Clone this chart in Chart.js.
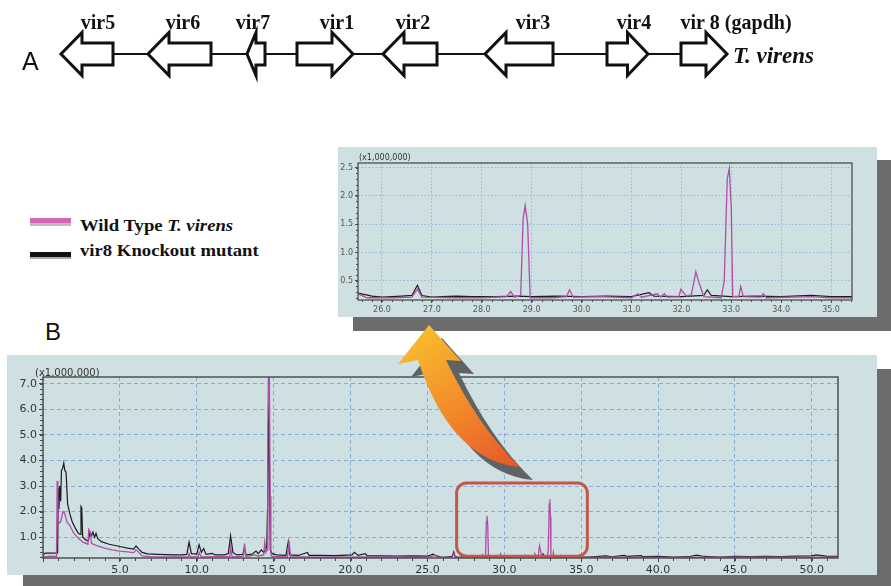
<!DOCTYPE html>
<html><head><meta charset="utf-8">
<script src="https://cdn.jsdelivr.net/npm/chart.js@4.4.1/dist/chart.umd.min.js"></script>
<style>
html,body{margin:0;padding:0;background:#fff;}
#wrap{position:relative;width:891px;height:586px;overflow:hidden;background:#fff;}
.abs{position:absolute;}
canvas{display:block;}
.lg{position:absolute;left:80px;font-family:"Liberation Serif","DejaVu Serif",serif;font-weight:bold;font-size:17px;line-height:17px;color:#111;white-space:nowrap;transform-origin:0 0;transform:scaleX(1.1);}
.sw{position:absolute;left:30px;width:41px;}
</style></head><body>
<div id="wrap">
  <canvas id="genes" class="abs" style="left:0;top:0" width="891" height="108"></canvas>

  <div class="sw" style="top:218px;height:5px;background:#d566b4"></div>
  <div class="sw" style="top:223px;height:3px;background:#bdbdbd"></div>
  <div class="lg" style="top:217px">Wild Type <i>T. virens</i></div>
  <div class="sw" style="top:252px;height:5px;background:#111"></div>
  <div class="sw" style="top:257px;height:2px;background:#aaa"></div>
  <div class="lg" style="top:242px">vir8 Knockout mutant</div>

  <div class="abs" style="left:45px;top:320px;font-family:'Liberation Sans',Arial,sans-serif;font-size:24px;line-height:24px;color:#111">B</div>

  <canvas id="inset" class="abs" style="left:338px;top:147px" width="553" height="184"></canvas>
  <canvas id="main" class="abs" style="left:0;top:355px" width="891" height="231"></canvas>
  <canvas id="overlay" class="abs" style="left:0;top:0;pointer-events:none" width="891" height="586"></canvas>
</div>
<script>
// ---------- Gene map data (kb, arbitrary origin) ----------
const geneNames  = ['vir5','vir6','vir7','vir1','vir2','vir3','vir4','vir 8 (gapdh)'];
const geneStart  = [6.1, 14.8, 24.7, 29.7, 38.3, 48.5, 60.7, 68.1];
const geneEnd    = [11.3, 21.1, 26.5, 35.3, 43.7, 55.3, 64.8, 72.7];
const geneStrand = [-1, -1, -1, 1, -1, -1, 1, 1];
const geneLabelAt= [9.8, 18.3, 25.3, 33.7, 41.3, 53.3, 63.4, 73.6];

// ---------- Chromatogram data (retention time, min ; intensity x1,000,000) ----------
const wtTime = [0,0.5,0.88,0.92,0.97,1.05,1.15,1.3,1.4,1.55,1.75,2.0,2.3,2.6,2.92,2.98,3.08,3.15,3.5,4.0,4.5,5.0,5.5,5.9,6.05,6.2,6.45,7.0,8.0,9.0,9.45,9.5,9.6,10.1,10.15,10.3,11.0,12.15,12.2,12.3,13.0,13.05,13.1,13.2,13.8,14.0,14.35,14.42,14.5,14.58,14.62,14.66,14.72,14.77,14.82,14.9,15.9,16.0,16.1,17.0,18.0,19.0,20.0,21.0,22.0,23.0,24.0,25.0,25.52,25.7,26.2,26.6,26.71,26.8,27.5,28.0,28.5,28.58,28.65,28.78,28.83,28.87,28.92,28.97,29.4,29.7,29.76,29.83,30.4,31.0,31.13,31.2,31.52,31.58,31.66,31.72,31.95,31.99,32.1,32.2,32.29,32.36,32.45,32.8,32.86,32.92,32.96,33.0,33.03,33.15,33.19,33.24,33.6,33.64,33.7,34.6,35.0,36.0,37.0,40.0,45.0,50.0,51.7];
const wtSignal = [0.22,0.25,0.24,3.2,1.7,1.55,1.6,2.0,1.95,1.6,1.45,1.15,0.95,0.8,0.72,1.3,1.2,0.75,0.66,0.57,0.5,0.45,0.42,0.39,0.5,0.42,0.26,0.23,0.22,0.22,0.23,0.35,0.22,0.23,0.4,0.22,0.23,0.24,0.6,0.22,0.24,0.3,0.75,0.24,0.3,0.26,0.3,0.8,0.4,0.5,5.2,7.4,7.4,2.6,0.3,0.24,0.22,0.85,0.22,0.22,0.21,0.22,0.21,0.22,0.21,0.22,0.21,0.22,0.27,0.2,0.2,0.21,0.35,0.21,0.2,0.2,0.22,0.31,0.21,0.24,1.6,1.83,1.5,0.2,0.2,0.22,0.34,0.21,0.22,0.2,0.27,0.21,0.27,0.21,0.27,0.21,0.22,0.35,0.23,0.25,0.66,0.45,0.22,0.2,0.5,2.3,2.48,1.8,0.22,0.22,0.4,0.22,0.21,0.27,0.2,0.22,0.2,0.2,0.21,0.2,0.21,0.21,0.21];

const koTime = [0,0.15,0.5,0.95,1.0,1.04,1.08,1.15,1.2,1.28,1.35,1.42,1.5,1.6,1.75,1.9,2.1,2.3,2.42,2.47,2.52,2.58,2.8,2.95,3.05,3.15,3.25,3.35,3.45,3.55,3.8,4.3,5.0,5.5,5.9,6.05,6.2,6.45,6.8,7.5,8.0,8.5,9.0,9.35,9.5,9.65,10.0,10.15,10.3,10.45,10.6,11.0,11.2,11.8,12.05,12.2,12.35,12.6,13.0,13.1,13.2,13.6,13.85,14.0,14.2,14.35,14.55,14.62,14.68,14.72,14.78,14.9,15.2,15.8,15.95,16.05,16.6,17.2,17.3,18.0,19.0,20.1,20.25,20.5,20.95,21.1,22.0,23.0,24.0,25.0,25.35,25.52,25.8,26.0,26.2,26.4,26.6,26.71,26.8,27.0,27.2,27.5,27.8,28.3,28.7,29.0,29.5,30.0,30.5,31.0,31.35,31.45,32.0,32.45,32.52,32.6,33.0,33.5,34.0,34.6,35.0,35.5,36.6,37.0,37.8,38.0,38.9,39.0,40.0,41.0,42.0,42.5,43.0,44.0,45.0,46.0,47.0,48.0,49.0,50.0,50.3,51.0,51.7];
const koSignal = [0.3,0.37,0.37,0.38,2.9,2.1,3.0,2.4,3.6,3.7,3.9,3.6,3.55,2.3,1.9,1.6,1.35,1.15,1.1,2.2,2.15,1.0,0.88,0.85,1.2,1.05,1.2,1.0,1.15,0.95,0.82,0.72,0.63,0.57,0.53,0.65,0.55,0.4,0.34,0.32,0.31,0.3,0.3,0.32,0.8,0.35,0.33,0.7,0.4,0.55,0.32,0.36,0.3,0.3,0.35,1.05,0.4,0.3,0.32,0.6,0.3,0.33,0.45,0.35,0.5,0.4,0.6,2.6,6.25,4.2,0.5,0.35,0.3,0.28,0.82,0.3,0.28,0.4,0.28,0.28,0.27,0.3,0.4,0.28,0.35,0.26,0.26,0.25,0.26,0.25,0.33,0.28,0.23,0.21,0.22,0.23,0.24,0.42,0.24,0.21,0.22,0.23,0.22,0.22,0.23,0.22,0.23,0.22,0.23,0.22,0.29,0.23,0.22,0.24,0.34,0.24,0.22,0.23,0.22,0.24,0.22,0.22,0.26,0.23,0.28,0.24,0.27,0.23,0.24,0.22,0.23,0.29,0.24,0.22,0.24,0.23,0.24,0.23,0.25,0.26,0.3,0.24,0.24];

// x-axis / y-axis tick steps and ranges
const mainRange  = {xMin:0, xMax:51.7, yMin:0.18, yMax:7.27, xStep:5, yStep:1};
const insetRange = {xMin:25.52, xMax:35.42, yMin:0.16, yMax:2.58, xStep:1, yStep:0.5};
const zoomWindow = {x0:26.9, x1:35.4, y0:0.25, y1:3.12};

const pts = (t, s) => t.map((v, i) => ({x: v, y: s[i]}));

const PANEL = '#cfe0e2', SHADOW = '#6c6c6c', AXIS = '#4a4a4a';

function framePlugin(cfg){
  return {
    id: 'frame_' + cfg.name,
    beforeDraw(chart){
      const c = chart.ctx; c.save();
      c.fillStyle = SHADOW; cfg.shadows.forEach(r => c.fillRect(r[0], r[1], r[2], r[3]));
      c.fillStyle = PANEL; c.fillRect(cfg.panel[0], cfg.panel[1], cfg.panel[2], cfg.panel[3]);
      c.restore();
    },
    afterDatasetsDraw(chart){
      if (!cfg.zoomBox) return;
      const {ctx, scales:{x, y}} = chart;
      const x0 = x.getPixelForValue(zoomWindow.x0), x1 = x.getPixelForValue(zoomWindow.x1);
      const y0 = y.getPixelForValue(zoomWindow.y1), y1 = y.getPixelForValue(zoomWindow.y0);
      ctx.save();
      ctx.strokeStyle = '#c4574a'; ctx.lineWidth = 3;
      ctx.beginPath(); ctx.roundRect(x0, y0, x1 - x0, y1 - y0, 10); ctx.stroke();
      ctx.restore();
    },
    afterDraw(chart){
      const {ctx, chartArea:a, scales:{x, y}} = chart;
      ctx.save();
      ctx.strokeStyle = AXIS; ctx.lineWidth = 1;
      ctx.beginPath();
      const ny0 = Math.ceil(y.min / cfg.yMinor), ny1 = Math.floor(y.max / cfg.yMinor);
      for (let k = ny0; k <= ny1; k++){
        const py = Math.round(y.getPixelForValue(k * cfg.yMinor)) + 0.5;
        ctx.moveTo(a.left, py); ctx.lineTo(a.left - cfg.minorLen, py);
      }
      const nx0 = Math.ceil(x.min / cfg.xMinor), nx1 = Math.floor(x.max / cfg.xMinor);
      for (let k = nx0; k <= nx1; k++){
        const px = Math.round(x.getPixelForValue(k * cfg.xMinor)) + 0.5;
        ctx.moveTo(px, a.bottom); ctx.lineTo(px, a.bottom + cfg.minorLen);
      }
      ctx.stroke();
      ctx.lineWidth = cfg.borderW; ctx.strokeStyle = '#505050';
      ctx.strokeRect(a.left, a.top, a.right - a.left, a.bottom - a.top);
      ctx.fillStyle = '#333'; ctx.font = cfg.unitFont; ctx.textBaseline = 'middle'; ctx.textAlign = 'left';
      ctx.fillText('(x1,000,000)', cfg.unitX, cfg.unitY);
      ctx.restore();
    }
  };
}

function chromChart(id, R, opt){
  return new Chart(document.getElementById(id), {
    type: 'line',
    data: {datasets: [
      {label: 'Wild Type T. virens', data: pts(wtTime, wtSignal), borderColor: '#b04ea6', borderWidth: opt.lw + 0.1, pointRadius: 0, tension: 0},
      {label: 'vir8 Knockout mutant', data: pts(koTime, koSignal), borderColor: '#1c1c1c', borderWidth: opt.lw, pointRadius: 0, tension: 0}
    ]},
    options: {
      responsive: false, animation: false, events: [],
      layout: {padding: opt.padding},
      plugins: {legend: {display: false}, tooltip: {enabled: false}},
      scales: {
        x: {type: 'linear', min: R.xMin, max: R.xMax,
            afterFit(s){ s.height = opt.xH; },
            ticks: {stepSize: R.xStep, includeBounds: false, autoSkip: false, maxRotation: 0, padding: opt.tickPad,
                    color: opt.tickColor, font: {family: 'DejaVu Sans', size: opt.fs},
                    callback: v => (v <= 0 ? '' : Number(v).toFixed(1))},
            grid: {color: opt.gridColor, lineWidth: 1, tickLength: opt.tickLen, tickColor: AXIS},
            border: {display: false, dash: opt.dash}},
        y: {type: 'linear', min: R.yMin, max: R.yMax,
            afterFit(s){ s.width = opt.yW; },
            ticks: {stepSize: R.yStep, includeBounds: false, padding: opt.tickPad,
                    color: opt.tickColor, font: {family: 'DejaVu Sans', size: opt.fs},
                    callback: v => Number(v).toFixed(1)},
            grid: {color: opt.gridColor, lineWidth: 1, tickLength: opt.tickLen, tickColor: AXIS},
            border: {display: false, dash: opt.dash}}
      }
    },
    plugins: [framePlugin(opt.frame)]
  });
}

chromChart('main', mainRange, {
  lw: 1.2, padding: {left: 0, top: 22, right: 53, bottom: 0}, xH: 28, yW: 43,
  tickPad: 2, tickLen: 4, fs: 11, tickColor: '#333', gridColor: '#86acd8', dash: [4, 3],
  frame: {name: 'main', panel: [7, 0, 870, 220], shadows: [[877, 14, 14, 217], [23, 220, 868, 11]],
          yMinor: 0.2, xMinor: 1, minorLen: 3, borderW: 1.5, unitFont: '10px DejaVu Sans', unitX: 35, unitY: 18, zoomBox: true}
});

chromChart('inset', insetRange, {
  lw: 1.2, padding: {left: 0, top: 16, right: 39, bottom: 0}, xH: 31, yW: 20,
  tickPad: 2, tickLen: 3, fs: 8, tickColor: '#555', gridColor: '#93b8da', dash: [1.5, 2],
  frame: {name: 'inset', panel: [0, 0, 539, 170], shadows: [[539, 13, 14, 171], [15, 170, 538, 14]],
          yMinor: 0.1, xMinor: 0.2, minorLen: 2, borderW: 1.3, unitFont: '8px DejaVu Sans', unitX: 21, unitY: 11, zoomBox: false}
});

// ---------- Gene map ----------
new Chart(document.getElementById('genes'), {
  type: 'scatter',
  data: {datasets: [{data: geneStart.map((s, i) => ({x: (s + geneEnd[i]) / 2, y: 0})), pointRadius: 0}]},
  options: {
    responsive: false, animation: false, events: [],
    layout: {padding: 0},
    plugins: {legend: {display: false}, tooltip: {enabled: false}},
    scales: {x: {type: 'linear', display: false, min: 0, max: 89.1}, y: {display: false, min: -1, max: 1}}
  },
  plugins: [{
    id: 'genearrows',
    afterDraw(chart){
      const {ctx, scales:{x, y}} = chart;
      const cy = y.getPixelForValue(0);
      ctx.save();
      ctx.strokeStyle = '#111'; ctx.lineWidth = 2;
      ctx.beginPath();
      ctx.moveTo(x.getPixelForValue(Math.min(...geneStart)), cy);
      ctx.lineTo(x.getPixelForValue(Math.max(...geneEnd)), cy);
      ctx.stroke();
      const bh = 11, hh = 21.5;
      geneStart.forEach((s, i) => {
        const x0 = x.getPixelForValue(s), x1 = x.getPixelForValue(geneEnd[i]);
        const hl = Math.min(21, (x1 - x0) * 0.5);
        ctx.beginPath();
        if (geneStrand[i] > 0){
          ctx.moveTo(x0, cy - bh); ctx.lineTo(x1 - hl, cy - bh); ctx.lineTo(x1 - hl, cy - hh);
          ctx.lineTo(x1, cy); ctx.lineTo(x1 - hl, cy + hh); ctx.lineTo(x1 - hl, cy + bh); ctx.lineTo(x0, cy + bh);
        } else {
          ctx.moveTo(x1, cy - bh); ctx.lineTo(x0 + hl, cy - bh); ctx.lineTo(x0 + hl, cy - hh);
          ctx.lineTo(x0, cy); ctx.lineTo(x0 + hl, cy + hh); ctx.lineTo(x0 + hl, cy + bh); ctx.lineTo(x1, cy + bh);
        }
        ctx.closePath();
        ctx.fillStyle = '#fff'; ctx.fill();
        ctx.lineWidth = 3; ctx.lineJoin = 'miter'; ctx.strokeStyle = '#111'; ctx.stroke();
        ctx.fillStyle = '#111'; ctx.font = 'bold 20px "Liberation Serif", serif';
        ctx.textAlign = 'center'; ctx.textBaseline = 'alphabetic';
        ctx.fillText(geneNames[i], x.getPixelForValue(geneLabelAt[i]), 29);
      });
      ctx.textAlign = 'left';
      ctx.font = 'bold italic 23px "Liberation Serif", serif';
      ctx.fillText('T. virens', x.getPixelForValue(Math.max(...geneEnd)) + 6, 63);
      ctx.font = '25px "Liberation Sans", sans-serif';
      ctx.fillText('A', 22, 70);
      ctx.restore();
    }
  }]
});

// ---------- Decorative zoom arrow ----------
(function(){
  const c = document.getElementById('overlay').getContext('2d');
  function path(dx, dy){
    c.beginPath();
    c.moveTo(429 + dx, 325 + dy);
    c.lineTo(461 + dx, 361 + dy);
    c.lineTo(446 + dx, 360 + dy);
    c.quadraticCurveTo(478 + dx, 427 + dy, 520 + dx, 467 + dy);
    c.quadraticCurveTo(451 + dx, 461 + dy, 418 + dx, 360 + dy);
    c.lineTo(398 + dx, 364 + dy);
    c.closePath();
  }
  path(13, 13); c.fillStyle = '#5f6365'; c.fill();
  const g = c.createLinearGradient(430, 325, 520, 467);
  g.addColorStop(0, '#f8bb2f'); g.addColorStop(0.5, '#f28b29'); g.addColorStop(1, '#e6552a');
  path(0, 0); c.fillStyle = g; c.fill();
})();
</script>
</body></html>
